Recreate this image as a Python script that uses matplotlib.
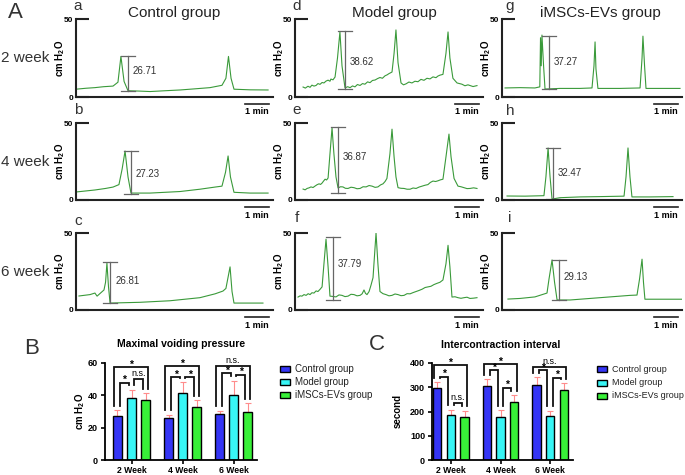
import matplotlib.pyplot as plt
from matplotlib.patches import Rectangle
import numpy as np

plt.rcParams['font.family'] = ['Liberation Sans', 'DejaVu Sans']
plt.rcParams['mathtext.default'] = 'regular'

# ---------------- data ----------------
groups = ["Control group", "Model group", "iMSCs-EVs group"]
row_names = ["2 week", "4 week", "6 week"]
panel_letters = [["a", "b", "c"], ["d", "e", "f"], ["g", "h", "i"]]

# cystometry traces: (time in % of panel width, pressure cmH2O)
trace_a = [(0, 5.0), (5, 5.6), (9.6, 6.0), (14, 6.6), (18.8, 7.0), (21.3, 9.5), (22.8, 26.0),
           (24.4, 10.0), (26.4, 4.0), (32, 3.8), (37.6, 3.5), (45, 4.0), (52.8, 4.5), (60, 5.2),
           (68, 6.0), (74.1, 7.5), (76.1, 12.0), (77.4, 26.0), (78.7, 12.0), (80.2, 5.0),
           (88.3, 4.6), (97.5, 4.5)]
trace_b = [(0, 5.2), (9.6, 6.5), (15, 7.5), (18.8, 8.4), (21.8, 10.0), (23.4, 20.0), (24.9, 31.8),
           (26.4, 15.0), (27.9, 4.5), (37.6, 4.5), (52.8, 5.5), (62.9, 7.0), (70.6, 8.4),
           (74.1, 9.0), (75.9, 18.0), (77.2, 28.6), (78.4, 15.0), (80.2, 5.0), (88.3, 4.5),
           (97.5, 4.5)]
trace_c = [(1.5, 9.1), (7.1, 10.0), (9.6, 11.0), (10.7, 9.0), (14.2, 13.0), (15.0, 18.0),
           (15.7, 30.5), (16.5, 15.0), (17.3, 4.5), (32.5, 5.0), (47.7, 6.0), (62.9, 8.0),
           (70.6, 10.5), (74.6, 12.3), (76.1, 14.0), (78.2, 28.0), (79.2, 12.0), (80.2, 4.5),
           (88.3, 4.5), (94.9, 4.5)]
trace_d = [(4.3, 6.4), (5.5, 5.7), (6.9, 6.9), (8.0, 6.2), (9.0, 7.6), (10.1, 7.0), (11.2, 7.4),
           (12.2, 8.6), (13.3, 8.1), (14.4, 9.3), (15.4, 9.0), (16.5, 10.2), (17.6, 10.8),
           (18.6, 10.1), (19.1, 11.5), (20.2, 11.0), (21.3, 12.8), (22.6, 25.0), (23.9, 41.7),
           (25.0, 20.0), (26.6, 5.8), (28.0, 6.6), (29.3, 6.0), (30.6, 7.1), (31.9, 6.5),
           (33.2, 8.0), (34.6, 7.4), (35.9, 8.6), (37.2, 8.2), (38.6, 9.7), (39.9, 9.2),
           (41.2, 10.6), (42.6, 10.9), (43.9, 11.8), (45.2, 12.5), (46.5, 12.0), (47.9, 13.6),
           (49.0, 14.2), (50.0, 15.0), (51.6, 16.0), (52.7, 28.0), (53.7, 43.0), (54.8, 22.0),
           (56.4, 9.0), (57.7, 7.8), (59.0, 8.4), (60.6, 9.6), (62.2, 9.0), (63.8, 10.1),
           (65.4, 9.8), (67.0, 11.3), (68.6, 10.7), (70.2, 12.0), (71.8, 11.6), (73.4, 12.9),
           (75.0, 12.4), (76.0, 13.4), (77.1, 14.0), (78.7, 14.5), (80.3, 28.0), (81.4, 41.7),
           (82.4, 25.0), (84.0, 12.0), (86.2, 9.0), (88.8, 8.2), (90.4, 7.2), (92.0, 7.8),
           (94.7, 6.7), (96.8, 7.3)]
trace_e = [(4.3, 7.1), (5.4, 6.6), (6.4, 7.5), (7.5, 7.9), (8.5, 8.5), (9.6, 8.1), (10.6, 9.0),
           (11.7, 9.9), (12.8, 10.5), (13.6, 10.1), (14.4, 11.0), (15.2, 12.3), (16.0, 13.5),
           (16.8, 13.0), (17.6, 14.3), (18.6, 30.0), (19.7, 46.8), (20.7, 30.0), (21.8, 15.0),
           (22.9, 7.8), (24.2, 8.6), (25.5, 8.5), (26.8, 7.6), (28.2, 7.5), (29.8, 8.3),
           (31.4, 8.0), (33.0, 7.3), (34.6, 7.5), (36.2, 8.6), (37.8, 8.5), (39.4, 9.4),
           (41.0, 9.0), (42.6, 8.2), (44.1, 8.5), (45.5, 9.8), (46.8, 10.5), (47.9, 12.0),
           (48.9, 14.0), (50.5, 30.0), (51.6, 46.0), (52.7, 28.0), (53.7, 15.0), (54.8, 8.0),
           (56.4, 7.6), (58.0, 7.5), (59.6, 7.0), (61.2, 7.0), (62.8, 7.8), (64.4, 7.5),
           (66.0, 8.4), (67.6, 9.0), (69.2, 9.6), (70.7, 10.0), (72.0, 11.4), (73.4, 12.3),
           (74.8, 12.0), (76.1, 12.5), (77.4, 13.1), (78.7, 13.5), (80.3, 28.0), (81.9, 42.8),
           (83.0, 28.0), (84.6, 14.0), (86.7, 9.0), (88.3, 8.6), (89.9, 8.0), (91.5, 7.4),
           (93.1, 7.5), (95.0, 7.9), (96.8, 7.5)]
trace_f = [(1.6, 8.4), (2.7, 9.2), (3.7, 9.0), (4.8, 10.0), (5.9, 9.5), (7.0, 10.6), (8.0, 10.0),
           (9.0, 11.2), (10.1, 11.0), (11.2, 12.4), (12.2, 12.0), (13.3, 13.4), (14.4, 15.0),
           (15.4, 30.0), (16.5, 46.0), (17.6, 28.0), (18.6, 9.0), (20.2, 8.8), (21.8, 8.5),
           (23.4, 9.8), (25.0, 9.5), (26.6, 8.7), (28.2, 9.0), (29.8, 10.2), (31.4, 10.0),
           (33.0, 9.2), (34.6, 9.5), (35.7, 10.5), (36.7, 13.0), (37.5, 10.8), (38.3, 10.0),
           (39.4, 12.0), (40.4, 16.0), (41.5, 21.0), (43.1, 50.0), (44.1, 30.0), (45.2, 12.0),
           (46.8, 10.6), (48.4, 10.0), (50.0, 9.2), (51.6, 9.5), (53.2, 10.4), (54.8, 10.0),
           (56.4, 9.3), (58.0, 9.5), (59.6, 10.6), (61.2, 10.5), (62.8, 11.3), (64.4, 12.0),
           (66.0, 12.7), (67.6, 13.5), (69.2, 14.6), (70.7, 15.0), (72.3, 15.4), (73.9, 16.5),
           (75.5, 17.3), (77.1, 18.0), (78.7, 19.5), (80.3, 30.0), (81.4, 42.0), (82.4, 28.0),
           (83.5, 8.4), (85.1, 8.6), (86.7, 8.0), (88.3, 7.6), (89.9, 8.0), (91.5, 8.3),
           (93.1, 7.5), (95.0, 7.7), (96.8, 8.0)]
trace_g = [(1.7, 5.8), (10.0, 6.0), (18.3, 5.8), (21.0, 6.5), (21.4, 38.0), (21.8, 20.0),
           (22.2, 39.7), (23.1, 20.0), (23.9, 5.1), (32.2, 5.5), (43.3, 5.5), (50.0, 5.8),
           (51.1, 20.0), (51.7, 35.3), (52.2, 18.0), (53.3, 5.5), (65.6, 5.5), (76.7, 5.8),
           (77.8, 25.0), (78.3, 39.0), (79.2, 20.0), (80.0, 5.5), (87.8, 5.5), (98.9, 5.5)]
trace_h = [(2.8, 2.6), (12.8, 2.5), (23.3, 2.8), (24.4, 15.0), (25.6, 33.8), (26.7, 15.0),
           (27.8, 0.6), (32.2, 1.5), (43.3, 2.0), (54.4, 2.2), (67.8, 2.5), (68.9, 15.0),
           (70.0, 33.8), (71.1, 15.0), (72.2, 2.0), (82.2, 2.0), (95.0, 2.2)]
trace_i = [(3.3, 7.1), (10.0, 7.5), (18.3, 8.5), (25.0, 11.0), (26.1, 20.0), (27.8, 32.5),
           (29.2, 18.0), (30.6, 6.5), (37.8, 6.5), (48.9, 7.5), (60.0, 8.5), (71.1, 9.5),
           (75.0, 9.7), (76.4, 20.0), (77.8, 33.0), (78.6, 18.0), (79.4, 7.0), (87.8, 7.0),
           (100.0, 7.0)]

# measured amplitude marks: (label, time, top, bottom, label height)
meas_a = ("26.71", 26.4, 26.3, 3.8, 16.7)
meas_b = ("27.23", 27.9, 31.8, 3.9, 16.9)
meas_c = ("26.81", 17.3, 31.0, 4.5, 18.8)
meas_d = ("38.62", 26.6, 42.3, 5.1, 22.4)
meas_e = ("36.87", 22.9, 47.4, 4.5, 27.9)
meas_f = ("37.79", 20.2, 47.4, 6.5, 29.9)
meas_g = ("37.27", 26.1, 39.1, 5.1, 22.4)
meas_h = ("32.47", 28.3, 33.8, 0.6, 17.5)
meas_i = ("29.13", 31.7, 32.5, 6.5, 21.4)

traces = [[trace_a, trace_b, trace_c], [trace_d, trace_e, trace_f], [trace_g, trace_h, trace_i]]
meas = [[meas_a, meas_b, meas_c], [meas_d, meas_e, meas_f], [meas_g, meas_h, meas_i]]

# bar charts
week_labels = ["2 Week", "4 Week", "6 Week"]
mvp_control = [27.5, 26.0, 28.5]
mvp_model = [38.5, 41.5, 40.0]
mvp_imsc = [37.3, 33.0, 30.0]
mvp_control_err = [3.5, 2.0, 2.0]
mvp_model_err = [5.0, 6.5, 9.0]
mvp_imsc_err = [4.2, 4.0, 5.0]
# (week, bar i, bar j, bracket height, label)
mvp_brackets = [(0, 0, 2, 57.5, "*"), (0, 0, 1, 47.8, "*"), (0, 1, 2, 50.2, "n.s."),
                (1, 0, 2, 58.0, "*"), (1, 0, 1, 51.4, "*"), (1, 1, 2, 51.4, "*"),
                (2, 0, 2, 58.0, "n.s."), (2, 0, 1, 53.9, "*"), (2, 1, 2, 52.7, "*")]

ici_control = [297, 307, 311]
ici_model = [185, 178, 181]
ici_imsc = [178, 240, 290]
ici_control_err = [23, 27, 31]
ici_model_err = [23, 27, 23]
ici_imsc_err = [26, 26, 28]
ici_brackets = [(0, 0, 2, 392, "*"), (0, 0, 1, 343, "*"), (0, 1, 2, 237, "n.s."),
                (1, 0, 2, 396, "*"), (1, 0, 1, 371, "*"), (1, 1, 2, 298, "*"),
                (2, 0, 2, 384, "n.s."), (2, 0, 1, 371, "*"), (2, 1, 2, 339, "*")]

bar_colors = ["#3535f5", "#38f5f5", "#38f038"]

# ---------------- layout helpers (pixels) ----------------
W, H = 685, 475
fig = plt.figure(figsize=(W / 100, H / 100), dpi=100)


def add_ax(x0, x1, ytop, ybot):
    return fig.add_axes([x0 / W, 1 - ybot / H, (x1 - x0) / W, (ybot - ytop) / H])


def ftxt(x, y, s, **kw):
    fig.text(x / W, 1 - y / H, s, **kw)


col_x = [(76, 273), (295, 483), (502, 682)]
row_y = [(19, 97), (123, 200), (233, 310)]
title_x = [174, 394, 600]
letter_pos = [[(78, 6), (78, 110), (78, 221)], [(297, 6), (297, 110), (297, 218)],
              [(510, 6), (510, 111), (510, 218)]]

ftxt(15, 13, "A", fontsize=16, ha="center", va="center", color="#333333")
for c in range(3):
    ftxt(title_x[c], 13, groups[c], fontsize=11, ha="center", va="center", color="#222222")
for r in range(3):
    yc = (row_y[r][0] + row_y[r][1]) / 2
    ftxt(25, yc, row_names[r], fontsize=11, ha="center", va="center", color="#333333")

trace_color = "#3a9a3a"
for c in range(3):
    for r in range(3):
        x0, x1 = col_x[c]
        yt, yb = row_y[r]
        wpx = x1 - x0
        hpx = yb - yt
        ax = add_ax(x0, x1, yt, yb)
        ax.patch.set_visible(False)
        t, p = zip(*traces[c][r])
        ax.plot(t, p, color=trace_color, lw=0.8)
        ax.set_xlim(0, 100)
        ax.set_ylim(0, 50)
        for s in ["top", "right"]:
            ax.spines[s].set_visible(False)
        for s in ["left", "bottom"]:
            ax.spines[s].set_linewidth(1.5)
            ax.spines[s].set_color("#222222")
        ax.set_xticks([])
        ax.set_yticks([0, 50])
        ax.tick_params(axis="y", direction="in", length=9, width=1.5, labelsize=6, pad=2,
                       color="#222222")
        for lbl in ax.get_yticklabels():
            lbl.set_fontweight("bold")
        ax.set_ylabel("cm H$_2$O", fontsize=7, fontweight="bold")
        ax.yaxis.set_label_coords(-9 / wpx, 0.5)

        lab, tm, top, bot, ly = meas[c][r]
        hw = 7 / wpx * 100
        mc = "#666666"
        ax.plot([tm, tm], [bot, top], color=mc, lw=0.9)
        ax.plot([tm - hw, tm + hw], [top, top], color=mc, lw=0.9)
        ax.plot([tm - hw, tm + hw], [bot, bot], color=mc, lw=0.9)
        ax.text(tm + 5 / wpx * 100, ly, lab, fontsize=7, va="center", ha="left", color="#333333")

        # 1 min scale bar
        ys = -7 / hpx * 50
        xa = 100 - 28 / wpx * 100
        xb = 100 - 4 / wpx * 100
        ax.plot([xa, xb], [ys, ys], color="#222222", lw=1.2, clip_on=False)
        ax.text((xa + xb) / 2, -15 / hpx * 50, "1 min", fontsize=6.5, fontweight="bold",
                ha="center", va="center", clip_on=False)

        lx, lyy = letter_pos[c][r]
        ftxt(lx, lyy, panel_letters[c][r], fontsize=11, ha="center", va="center", color="#333333")


def bar_panel(ax, means, errs, brackets, ymax, yticks, xlim, ylabel, ylab_off, wpx):
    off = 0.275
    bw = 0.165
    x = np.arange(3)
    for k in range(3):
        xs = x + (k - 1) * off
        ax.bar(xs, means[k], width=bw, color=bar_colors[k], edgecolor="black", lw=1.0, zorder=2)
        ax.errorbar(xs, means[k], yerr=[np.zeros(3), errs[k]], fmt="none", ecolor="#ff8c8c",
                    elinewidth=0.8, capsize=2, capthick=0.8, zorder=1)
    gap = ymax * 0.045
    for (wk, i, j, hgt, lab) in brackets:
        ci = wk + (i - 1) * off
        cj = wk + (j - 1) * off
        if j - i == 2:
            xl, xr = ci - 0.4 * bw, cj + 0.3 * bw
        else:
            xl, xr = ci + 0.35 * bw, cj - 0.35 * bw
        bl = min(means[i][wk] + errs[i][wk] + gap, hgt - ymax * 0.01)
        br = min(means[j][wk] + errs[j][wk] + gap, hgt - ymax * 0.01)
        ax.plot([xl, xl, xr, xr], [bl, hgt, hgt, br], color="#111111", lw=1.3,
                solid_joinstyle="miter", clip_on=False)
        if lab == "*":
            ax.text((xl + xr) / 2, hgt - ymax * 0.005, lab, fontsize=7.5, fontweight="bold",
                    ha="center", va="baseline", clip_on=False)
        else:
            ax.text((xl + xr) / 2, hgt + ymax * 0.01, lab, fontsize=6.5, ha="center",
                    va="bottom", clip_on=False)
    ax.set_xlim(*xlim)
    ax.set_ylim(0, ymax)
    ax.set_yticks(yticks)
    ax.set_xticks(x)
    ax.set_xticklabels(week_labels)
    ax.tick_params(labelsize=6.5, width=1.2, length=3, pad=2)
    ax.tick_params(axis="x", labelsize=6.2, pad=1)
    for lbl in ax.get_xticklabels() + ax.get_yticklabels():
        lbl.set_fontweight("bold")
    for s in ["top", "right"]:
        ax.spines[s].set_visible(False)
    for s in ["left", "bottom"]:
        ax.spines[s].set_linewidth(1.3)
    ax.set_ylabel(ylabel, fontsize=7, fontweight="bold")
    ax.yaxis.set_label_coords(-ylab_off / wpx, 0.5)
    ax.patch.set_visible(False)


def legend_px(x, y0, step, fs):
    for k in range(3):
        y = y0 + k * step
        fig.add_artist(Rectangle((x / W, 1 - (y + 3) / H), 10 / W, 6 / H,
                                 transform=fig.transFigure, facecolor=bar_colors[k],
                                 edgecolor="black", lw=1.0))
        ftxt(x + 15, y, groups[k], fontsize=fs, ha="left", va="center", color="#222222")


# B
axB = add_ax(105, 257, 363, 460)
bar_panel(axB, [mvp_control, mvp_model, mvp_imsc], [mvp_control_err, mvp_model_err, mvp_imsc_err],
          mvp_brackets, 60, [0, 20, 40, 60], (-0.52, 2.46), "cm H$_2$O", 18, 152)
ftxt(181, 344, "Maximal voiding pressure", fontsize=7.5, fontweight="bold", ha="center", va="center")
ftxt(32, 348, "B", fontsize=16, ha="center", va="center", color="#333333")
legend_px(280, 369, 13, 7)

# C
axC = add_ax(432, 573, 363, 460)
bar_panel(axC, [ici_control, ici_model, ici_imsc], [ici_control_err, ici_model_err, ici_imsc_err],
          ici_brackets, 400, [0, 100, 200, 300, 400], (-0.38, 2.46), "second", 29, 141)
ftxt(501, 345, "Intercontraction interval", fontsize=7.5, fontweight="bold", ha="center", va="center")
ftxt(377, 345, "C", fontsize=16, ha="center", va="center", color="#333333")
legend_px(597, 369, 13.5, 6.5)

fig.savefig("out.png", dpi=100)
